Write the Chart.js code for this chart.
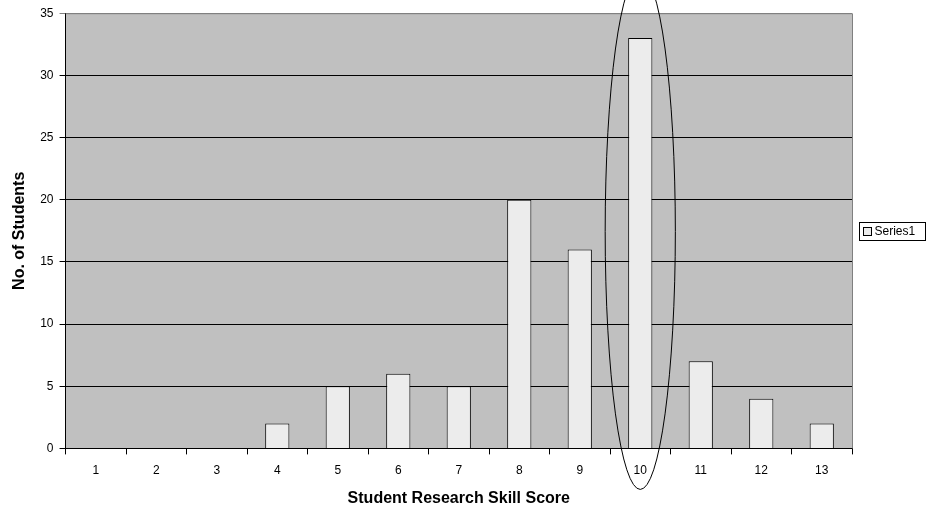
<!DOCTYPE html>
<html lang="en">
<head>
  <meta charset="UTF-8">
  <title>Student Research Skill Score</title>
  <script src="https://cdn.jsdelivr.net/npm/chart.js"></script>
  <style>
    html, body { margin: 0; padding: 0; background: #fff; }
    #wrap { width: 926px; height: 510px; position: relative; }
  </style>
</head>
<body>
  <div id="wrap"><canvas id="skillChart"></canvas></div>

  <script>
    const scores = ['1', '2', '3', '4', '5', '6', '7', '8', '9', '10', '11', '12', '13'];
    const students = [0, 0, 0, 2, 5, 6, 5, 20, 16, 33, 7, 4, 2];
    const seriesName = 'Series1';
    const highlightIndex = 9;   // the circled score (10)

    const font = 'Arial, "Liberation Sans", sans-serif';

    // grey plot area, outline, ellipse and boxed legend
    const decor = {
      id: 'decor',
      beforeDraw(chart) {
        const { ctx, chartArea: a } = chart;
        ctx.save();
        ctx.fillStyle = '#c0c0c0';
        ctx.fillRect(a.left, a.top, a.right - a.left, a.bottom - a.top);
        ctx.restore();
      },
      afterDraw(chart) {
        const { ctx, chartArea: a, scales: { x, y } } = chart;
        ctx.save();
        // outline top / right
        ctx.strokeStyle = '#808080';
        ctx.lineWidth = 1;
        ctx.beginPath();
        ctx.moveTo(a.left, a.top + 0.5);
        ctx.lineTo(a.right + 0.5, a.top + 0.5);
        ctx.lineTo(a.right + 0.5, a.bottom);
        ctx.stroke();

        // ellipse around the highlighted bar
        const catW = (a.right - a.left) / scores.length;
        const cx = x.getPixelForValue(highlightIndex);
        const cy = y.getPixelForValue(17.45);
        const ry = y.getPixelForValue(0) - y.getPixelForValue(20.75);
        ctx.strokeStyle = '#000';
        ctx.beginPath();
        ctx.ellipse(cx, cy, catW * 0.58, ry, 0, 0, Math.PI * 2);
        ctx.stroke();

        // legend
        const lx = 859.5, ly = 222.5, lw = 66, lh = 18;
        ctx.fillStyle = '#fff';
        ctx.fillRect(lx, ly, lw, lh);
        ctx.strokeRect(lx, ly, lw, lh);
        ctx.fillStyle = '#ececec';
        ctx.fillRect(lx + 4, ly + 5, 8, 8);
        ctx.strokeRect(lx + 4, ly + 5, 8, 8);
        ctx.fillStyle = '#000';
        ctx.font = '12px ' + font;
        ctx.textBaseline = 'middle';
        ctx.fillText(seriesName, lx + 15, ly + lh / 2 + 0.5);
        ctx.restore();
      }
    };

    const ctx = document.getElementById('skillChart').getContext('2d');
    new Chart(ctx, {
      type: 'bar',
      data: {
        labels: scores,
        datasets: [{
          label: seriesName,
          data: students,
          backgroundColor: '#ececec',
          borderColor: '#000',
          borderWidth: 1,
          barPercentage: 0.4,
          categoryPercentage: 1
        }]
      },
      options: {
        responsive: true,
        maintainAspectRatio: false,
        animation: false,
        layout: { padding: { top: 8, right: 74, left: 9, bottom: 2 } },
        plugins: {
          legend: { display: false },
          tooltip: { enabled: false }
        },
        scales: {
          x: {
            grid: {
              offset: true,
              drawOnChartArea: false,
              color: '#000',
              tickLength: 6
            },
            border: { color: '#000' },
            ticks: { color: '#000', font: { family: font, size: 12 }, padding: 9 },
            title: {
              display: true,
              text: 'Student Research Skill Score',
              color: '#000',
              font: { family: font, size: 16, weight: 'bold' },
              padding: { top: 2, bottom: 0 }
            }
          },
          y: {
            min: 0,
            max: 35,
            ticks: { stepSize: 5, color: '#000', font: { family: font, size: 12 }, padding: 6 },
            grid: {
              color: c => c.tick && c.tick.value === 35 ? '#808080' : '#000',
              tickLength: 6
            },
            border: { color: '#000' },
            title: {
              display: true,
              text: 'No. of Students',
              color: '#000',
              font: { family: font, size: 16, weight: 'bold' },
              padding: { top: 1, bottom: 5 }
            }
          }
        }
      },
      plugins: [decor]
    });
  </script>
</body>
</html>
